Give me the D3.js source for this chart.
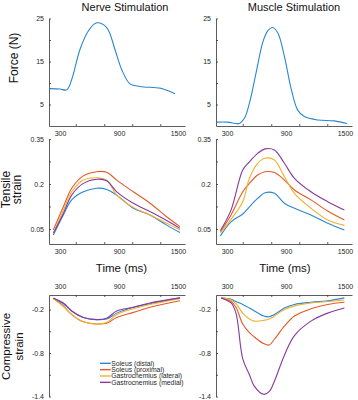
<!DOCTYPE html>
<html>
<head>
<meta charset="utf-8">
<script src="https://cdn.jsdelivr.net/npm/d3@7"></script>
<style>
  body { margin: 0; background: #fff; }
  svg { display: block; font-family: "Liberation Sans", Arial, sans-serif; }
</style>
</head>
<body>
<svg id="chart" width="358" height="400"></svg>
<script>
// ---- data ----
const seriesNames = ["Soleus (distal)", "Soleus (proximal)", "Gastrocnemius (lateral)", "Gastrocnemius (medial)"];
const seriesColors = ["#2a87cf", "#e35a26", "#efb22c", "#88399e"];

const timeLabelTicks = [300, 900, 1500];
const timeMinorTicks = [460, 750, 1035, 1320];

const forceTicks = [5, 15, 25];
const forceMinor = [10, 20];
const tensileTicks = [0.05, 0.2, 0.35];
const tensileMinor = [0.125, 0.275];
const compTicks = [-1.4, -0.8, -0.2];
const compMinor = [-1.1, -0.5];

const forceNerveTime = [198, 300, 368, 419, 503, 588, 673, 775, 859, 928, 1012, 1114, 1317, 1385, 1470];
const forceNerve = [8.7, 8.6, 8.4, 10.8, 17.8, 22.1, 24.0, 22.9, 17.8, 13.1, 9.8, 9.2, 8.8, 8.3, 7.5];

const forceMuscleTime = [198, 307, 426, 477, 528, 595, 663, 714, 763, 816, 884, 951, 1019, 1087, 1223, 1392, 1520];
const forceMuscle = [0.9, 0.9, 0.6, 1.8, 5.3, 12.3, 19.4, 22.1, 22.9, 21.7, 16.2, 8.8, 3.7, 2.2, 1.4, 1.2, 0.6];

const tensileNerveTime = [232, 334, 419, 537, 673, 775, 877, 1046, 1215, 1385, 1520];
const tensileNerve = [
  [0.030, 0.097, 0.147, 0.174, 0.186, 0.182, 0.163, 0.119, 0.097, 0.063, 0.038],
  [0.047, 0.124, 0.186, 0.227, 0.241, 0.239, 0.213, 0.174, 0.136, 0.091, 0.058],
  [0.036, 0.113, 0.174, 0.213, 0.221, 0.213, 0.163, 0.122, 0.097, 0.069, 0.047],
  [0.036, 0.102, 0.163, 0.202, 0.216, 0.211, 0.174, 0.136, 0.108, 0.078, 0.052],
];

const tensileMuscleTime = [233, 341, 460, 528, 612, 687, 782, 884, 986, 1154, 1324, 1494];
const tensileMuscle = [
  [0.027, 0.074, 0.100, 0.124, 0.152, 0.171, 0.169, 0.136, 0.119, 0.097, 0.069, 0.047],
  [0.041, 0.097, 0.174, 0.202, 0.230, 0.241, 0.238, 0.213, 0.180, 0.147, 0.110, 0.080],
  [0.037, 0.082, 0.141, 0.219, 0.269, 0.286, 0.280, 0.224, 0.169, 0.119, 0.080, 0.062],
  [0.045, 0.113, 0.247, 0.274, 0.302, 0.317, 0.313, 0.269, 0.219, 0.174, 0.141, 0.113],
];

const compNerveTime = [232, 334, 419, 537, 673, 775, 877, 1046, 1215, 1520];
const compNerve = [
  [-0.05, -0.12, -0.22, -0.31, -0.34, -0.33, -0.25, -0.17, -0.12, -0.04],
  [-0.05, -0.15, -0.27, -0.37, -0.40, -0.39, -0.31, -0.24, -0.17, -0.08],
  [-0.05, -0.16, -0.27, -0.37, -0.40, -0.38, -0.27, -0.19, -0.13, -0.05],
  [-0.04, -0.11, -0.22, -0.31, -0.34, -0.32, -0.22, -0.17, -0.11, -0.04],
];

const compMuscleTime = [239, 341, 391, 460, 528, 579, 673, 731, 782, 884, 986, 1154, 1324, 1494];
const compMuscle = [
  [-0.04, -0.06, -0.09, -0.13, -0.18, -0.22, -0.29, -0.30, -0.27, -0.18, -0.13, -0.10, -0.08, -0.04],
  [-0.04, -0.09, -0.17, -0.40, -0.52, -0.58, -0.67, -0.69, -0.61, -0.43, -0.29, -0.19, -0.13, -0.10],
  [-0.04, -0.07, -0.12, -0.25, -0.33, -0.36, -0.35, -0.33, -0.29, -0.20, -0.15, -0.11, -0.09, -0.07],
  [-0.04, -0.11, -0.25, -0.88, -1.10, -1.26, -1.37, -1.33, -1.19, -0.83, -0.56, -0.36, -0.25, -0.18],
];

// ---- layout ----
const axisColor = "#333";
const textColor = "#262626";
const colLeft = [49, 216];
const innerW = 136;
const rows = {
  force: { top: 18.5, bottom: 126, domain: [0, 25], ticks: forceTicks, minor: forceMinor, xAxis: "bottom" },
  tensile: { top: 139, bottom: 244, domain: [0, 0.35], ticks: tensileTicks, minor: tensileMinor, xAxis: "bottom" },
  comp: { top: 295, bottom: 396.5, domain: [-1.4, 0], ticks: compTicks, minor: compMinor, xAxis: "top" },
};

const svg = d3.select("#chart");

const x = d3.scaleLinear().domain([188, 188 + innerW / 0.0983]).range([0, innerW]);

function styleAxis(sel) {
  sel.selectAll(".domain,.tick line").attr("stroke", axisColor).attr("stroke-width", 0.8);
  sel.selectAll("text").attr("fill", textColor).attr("font-size", 7).attr("font-family", null);
}

function drawPanel(col, row, times, series, colors) {
  const g = svg.append("g").attr("transform", `translate(${colLeft[col]},0)`);
  const y = d3.scaleLinear().domain(row.domain).range([row.bottom, row.top]);
  const fmt = (v) => (row.ticks.includes(v) ? String(v) : "");

  g.append("g")
    .call(d3.axisLeft(y).tickValues([...row.ticks, ...row.minor]).tickSize(-2).tickSizeOuter(0).tickPadding(5).tickFormat(fmt))
    .call(styleAxis);

  const xPos = row.xAxis === "bottom" ? row.bottom : row.top;
  const mk = row.xAxis === "bottom" ? d3.axisBottom : d3.axisTop;
  const xa = g.append("g").attr("transform", `translate(0,${xPos})`);
  xa.call(mk(x).tickValues(timeMinorTicks).tickSize(-2).tickSizeOuter(0).tickFormat(""));
  xa.append("g")
    .call(mk(x).tickValues(timeLabelTicks).tickSize(0).tickFormat(String).tickPadding(row.xAxis === "bottom" ? 5 : 6))
    .call((s) => s.select(".domain").remove());
  xa.call(styleAxis);

  const line = d3.line().x((d) => x(d[0])).y((d) => y(d[1])).curve(d3.curveCatmullRom.alpha(0.5));
  series.forEach((vals, i) => {
    g.append("path")
      .datum(times.map((t, k) => [t, vals[k]]))
      .attr("fill", "none")
      .attr("stroke", colors[i])
      .attr("stroke-width", 1.1)
      .attr("d", line);
  });
}

drawPanel(0, rows.force, forceNerveTime, [forceNerve], [seriesColors[0]]);
drawPanel(1, rows.force, forceMuscleTime, [forceMuscle], [seriesColors[0]]);
drawPanel(0, rows.tensile, tensileNerveTime, tensileNerve, seriesColors);
drawPanel(1, rows.tensile, tensileMuscleTime, tensileMuscle, seriesColors);
drawPanel(0, rows.comp, compNerveTime, compNerve, seriesColors);
drawPanel(1, rows.comp, compMuscleTime, compMuscle, seriesColors);

// titles
[["Nerve Stimulation", 125], ["Muscle Stimulation", 294]].forEach(([t, cx]) => {
  svg.append("text").attr("x", cx).attr("y", 10.5).attr("text-anchor", "middle")
    .attr("font-size", 11).attr("fill", "#111").text(t);
});

// x titles
[121.5, 285].forEach((cx) => {
  svg.append("text").attr("x", cx).attr("y", 271.5).attr("text-anchor", "middle")
    .attr("font-size", 11.5).attr("fill", "#111").text("Time (ms)");
});

// y titles
function yTitle(lines, cy, baselines, size) {
  lines.forEach((t, i) => {
    svg.append("text")
      .attr("transform", `translate(${baselines[i]},${cy}) rotate(-90)`)
      .attr("text-anchor", "middle").attr("font-size", size).attr("fill", "#111").text(t);
  });
}
yTitle(["Force (N)"], 58, [18], 12);
yTitle(["Tensile", "strain"], 189.5, [9.5, 20.5], 12);
yTitle(["Compressive", "strain"], 346.5, [10, 22.5], 11.5);

// legend
const legend = svg.append("g").attr("transform", "translate(100,363.3)");
seriesNames.forEach((name, i) => {
  const row = legend.append("g").attr("transform", `translate(0,${i * 6.35})`);
  row.append("line").attr("x1", 0).attr("x2", 10.7).attr("stroke", seriesColors[i]).attr("stroke-width", 1.4);
  row.append("text").attr("x", 11.3).attr("y", 2.3).attr("font-size", 6.8).attr("fill", textColor).text(name);
});
</script>
</body>
</html>
